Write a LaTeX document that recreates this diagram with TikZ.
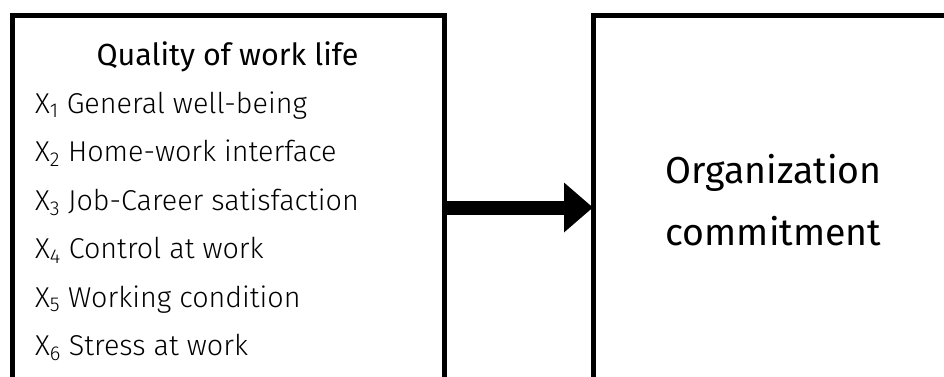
\documentclass[tikz,border=0pt]{standalone}
\usepackage{fontspec}
\setmainfont{Fira Sans}
\newfontfamily\lightfont{Fira Sans Light}
\usetikzlibrary{arrows.meta}
\tikzset{
  box/.style={draw=black, line width=5pt, rectangle, inner sep=0pt, outer sep=0pt},
  item/.style={anchor=base west, inner sep=0pt, font=\lightfont\fontsize{28.7}{32}\selectfont},
  head/.style={anchor=base, inner sep=0pt, font=\fontsize{30.5}{34}\selectfont},
  big/.style={anchor=base, inner sep=0pt, font=\fontsize{37.5}{44}\selectfont},
  flow/.style={line width=14pt, -{Triangle[length=29pt,width=48pt]}}
}
\begin{document}
\begin{tikzpicture}[x=1pt,y=-1pt]
\useasboundingbox (0,0) rectangle (944,376);
\clip (0,0) rectangle (944,376);
\fill[white] (0,0) rectangle (944,376);
\node[box, minimum width=432pt, minimum height=385pt] (L) at (228,207.5) {};
\node[box, minimum width=367pt, minimum height=385pt] (R) at (776.5,207.5) {};
\draw[flow] (L.east) -- (R.west);
\node[head] (t) at (227.5,65) {Quality of work life};
\node[item] (x1) at (35,113) {X\textsubscript{1} General well-being};
\node[item] (x2) at (35,161.5) {X\textsubscript{2} Home-work interface};
\node[item] (x3) at (35,210) {X\textsubscript{3} Job-Career satisfaction};
\node[item] (x4) at (35,258.5) {X\textsubscript{4} Control at work};
\node[item] (x5) at (35,307) {X\textsubscript{5} Working condition};
\node[item] (x6) at (35,355.5) {X\textsubscript{6} Stress at work};
\node[big] (o1) at (773.5,183) {Organization};
\node[big] (o2) at (773.5,245) {commitment};
\end{tikzpicture}
\end{document}
